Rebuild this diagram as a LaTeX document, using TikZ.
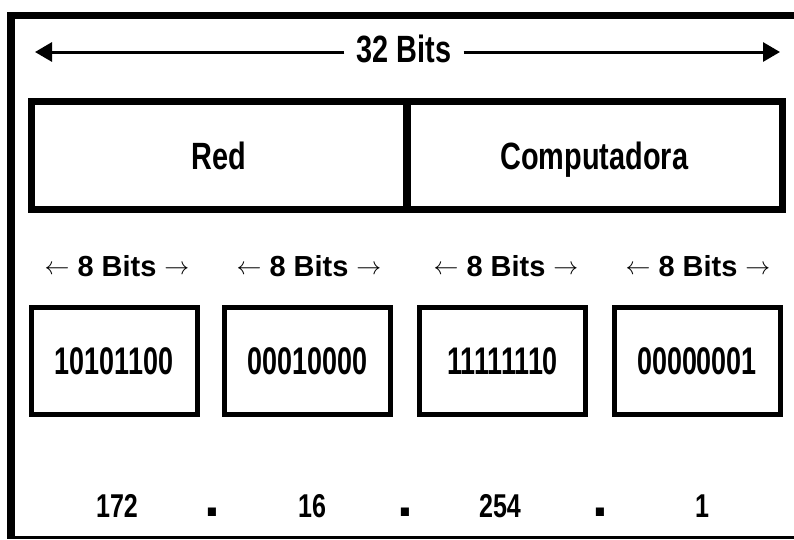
\documentclass[tikz,border=0pt]{standalone}
\usepackage{fontspec}
\setmainfont{Liberation Sans}
\newfontfamily\nar{Liberation Sans}[FakeStretch=0.76]
\newfontfamily\binf{Liberation Sans}[FakeStretch=0.7]
\usetikzlibrary{arrows.meta}
\tikzset{
  bigbox/.style={draw, line width=7pt, minimum width=375.5pt, minimum height=108pt, inner sep=0pt, outer sep=0pt,
    text height=27pt, text depth=0pt,
    font=\nar\bfseries\fontsize{38}{40}\selectfont},
  bytebox/.style={draw, line width=5pt, minimum width=166pt, minimum height=107pt, inner sep=0pt, outer sep=0pt,
    font=\binf\bfseries\fontsize{38.5}{40}\selectfont},
  bitlabel/.style={anchor=base, inner sep=0pt, font=\bfseries\fontsize{29}{30}\selectfont},
  declabel/.style={anchor=base, inner sep=0pt, font=\nar\bfseries\fontsize{33}{36}\selectfont},
  dotlabel/.style={anchor=base, inner sep=0pt, font=\bfseries\fontsize{57}{60}\selectfont},
  framestroke/.style={draw=black},
  bigarrow/.style={line width=3pt, -{Triangle[length=17pt,width=19pt]}}
}
\newcommand{\smallarr}[1]{{\fontsize{25}{25}\selectfont\raisebox{2pt}{$#1$}}}
\begin{document}
\begin{tikzpicture}[x=1pt,y=-1pt]
\useasboundingbox (0,0) rectangle (794,539);
\fill[white] (0,0) rectangle (794,539);
% frame
\draw[framestroke, line width=7pt] (7,15.5) -- (794,15.5);
\draw[framestroke, line width=8pt] (11,12) -- (11,539);
\draw[framestroke, line width=2.5pt] (7,537.5) -- (794,537.5);
% 32 bits
\node[anchor=base, inner xsep=12pt, inner ysep=0pt, font=\nar\bfseries\fontsize{38}{40}\selectfont] (t32) at (404,62) {32 Bits};
\coordinate (lt) at (35,52);
\coordinate (rt) at (780,52);
\draw[bigarrow] (t32.west |- lt) -- (lt);
\draw[bigarrow] (t32.east |- rt) -- (rt);
% Red / Computadora
\node[bigbox] (red) at (219.25,155.5) {Red};
\node[bigbox] (comp) at (594.25,155.5) {Computadora};
% 8 bits labels
\foreach \n/\x in {b1/117, b2/309, b3/506, b4/698}{
  \node[bitlabel] (\n) at (\x,276) {\smallarr{\leftarrow}\hspace{8pt}8 Bits\hspace{8pt}\smallarr{\rightarrow}};
}
% byte boxes
\node[bytebox] (y1) at (114,361) {10101100};
\node[bytebox] (y2) at (307.5,361) {00010000};
\node[bytebox] (y3) at (502.5,361) {11111110};
\node[bytebox] (y4) at (697,361) {00000001};
% decimal values
\node[declabel] (d1) at (117,517) {172};
\node[declabel] (d2) at (312,517) {16};
\node[declabel] (d3) at (500,517) {254};
\node[declabel] (d4) at (702,517) {1};
\node[dotlabel] (p1) at (212,516) {.};
\node[dotlabel] (p2) at (405,516) {.};
\node[dotlabel] (p3) at (600,516) {.};
\end{tikzpicture}
\end{document}
